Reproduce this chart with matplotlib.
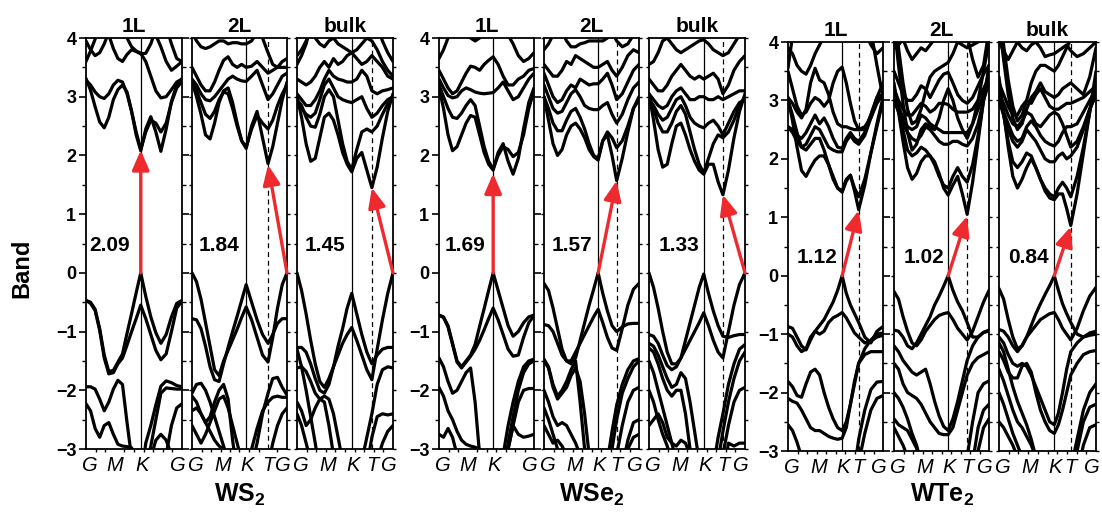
import numpy as np
import matplotlib
matplotlib.use("Agg")
import matplotlib.pyplot as plt

plt.rcParams['font.family'] = 'Liberation Sans'
plt.rcParams['mathtext.fontset'] = 'custom'
plt.rcParams['mathtext.rm'] = 'Liberation Sans'
plt.rcParams['mathtext.bf'] = 'Liberation Sans:bold'

# ---------------------------------------------------------------
# k-path: G (0) -> M -> K -> T -> G (1); K and T positions per panel
# each band: 13 values on G..K, 4 on K..T, 4 on T..G
# ---------------------------------------------------------------
K_POS = 0.57
T_POS = {'WS2_1L': 0.78, 'WS2_2L': 0.80, 'WS2_bulk': 0.78,
         'WSe2_1L': 0.78, 'WSe2_2L': 0.765, 'WSe2_bulk': 0.77,
         'WTe2_1L': 0.744, 'WTe2_2L': 0.77, 'WTe2_bulk': 0.74}

GAPS = {'WS2_1L': 2.09, 'WS2_2L': 1.84, 'WS2_bulk': 1.45,
        'WSe2_1L': 1.69, 'WSe2_2L': 1.57, 'WSe2_bulk': 1.33,
        'WTe2_1L': 1.12, 'WTe2_2L': 1.02, 'WTe2_bulk': 0.84}

# (valence-band maximum point, conduction-band minimum point)
TRANSITION = {'WS2_1L': ('K', 'K'), 'WS2_2L': ('G', 'T'), 'WS2_bulk': ('G', 'T'),
              'WSe2_1L': ('K', 'K'), 'WSe2_2L': ('K', 'T'), 'WSe2_bulk': ('G', 'T'),
              'WTe2_1L': ('K', 'T'), 'WTe2_2L': ('K', 'T'), 'WTe2_bulk': ('K', 'T')}

# ----------------------------- WS2 -----------------------------
WS2_1L_CB = [
    [3.31, 3.11, 2.83, 2.57, 2.47, 2.65, 2.95, 3.12, 3.2, 3.08, 2.75, 2.35, 2.08, 2.45, 2.66, 2.4, 2.07, 2.45, 2.92, 3.2, 3.31],
    [3.28, 3.2, 3.08, 3.0, 2.97, 3.05, 3.2, 3.28, 3.25, 3.05, 2.75, 2.4, 2.1, 2.4, 2.6, 2.55, 2.4, 2.55, 2.9, 3.15, 3.26],
    [3.6, 3.78, 3.98, 4.15, 4.2, 4.05, 3.82, 3.65, 3.6, 3.72, 3.8, 3.77, 3.73, 3.74, 3.9, 4.15, 4.3, 4.2, 3.9, 3.65, 3.6],
    [3.95, 3.8, 3.7, 3.75, 3.9, 4.1, 4.3, 4.3, 4.2, 4.0, 3.85, 3.78, 3.74, 3.6, 3.35, 3.1, 2.98, 3.0, 3.12, 3.25, 3.3],
    [4.3, 4.3, 4.3, 4.3, 4.3, 4.3, 4.3, 4.3, 4.3, 4.3, 4.3, 4.3, 4.2, 4.3, 4.2, 4.05, 3.85, 3.6, 3.45, 3.52, 3.6],
]
WS2_1L_VB = [
    [-0.47, -0.5, -0.62, -0.95, -1.4, -1.68, -1.66, -1.52, -1.38, -1.03, -0.69, -0.34, 0.0, -0.4, -0.75, -1.02, -1.2, -1.05, -0.75, -0.52, -0.47],
    [-0.47, -0.52, -0.64, -0.98, -1.45, -1.72, -1.7, -1.55, -1.45, -1.23, -1.0, -0.78, -0.55, -0.78, -1.05, -1.32, -1.48, -1.38, -1.0, -0.6, -0.48],
    [-1.94, -1.94, -1.98, -2.15, -2.35, -2.2, -1.98, -1.83, -1.9, -2.55, -3.15, -3.6, -3.6, -2.9, -2.6, -2.25, -1.93, -1.84, -1.87, -1.92, -1.94],
    [-2.23, -2.35, -2.65, -2.8, -2.6, -2.55, -2.75, -2.92, -2.95, -2.96, -2.98, -3.2, -3.5, -3.5, -3.5, -3.5, -3.4, -3.1, -2.6, -2.3, -2.23],
    [-3.5, -3.5, -3.5, -3.5, -3.5, -3.5, -3.5, -3.5, -3.5, -3.5, -3.5, -3.5, -3.5, -3.5, -3.15, -2.85, -2.75, -2.85, -3.1, -3.4, -3.5],
    [-3.5, -3.5, -3.5, -3.5, -3.5, -3.5, -3.5, -3.5, -3.5, -3.5, -3.5, -3.5, -3.5, -3.3, -2.95, -2.5, -2.05, -1.96, -1.97, -1.98, -1.98],
]

WS2_2L_CB = [
    [3.26, 3.0, 2.7, 2.35, 2.28, 2.55, 2.9, 3.1, 3.15, 2.9, 2.55, 2.25, 2.12, 2.5, 2.75, 2.3, 1.86, 2.15, 2.55, 2.95, 3.25],
    [3.26, 3.1, 2.9, 2.7, 2.63, 2.75, 2.95, 3.08, 3.05, 2.8, 2.5, 2.25, 2.14, 2.45, 2.68, 2.55, 2.45, 2.6, 2.85, 3.05, 3.2],
    [3.3, 3.2, 3.05, 2.95, 2.93, 3.0, 3.1, 3.2, 3.3, 3.35, 3.3, 3.27, 3.26, 3.35, 3.45, 3.2, 2.95, 3.05, 3.2, 3.35, 3.4],
    [3.5, 3.35, 3.2, 3.1, 3.1, 3.25, 3.45, 3.62, 3.68, 3.55, 3.5, 3.55, 3.5, 3.52, 3.6, 3.5, 3.4, 3.45, 3.5, 3.5, 3.5],
    [4.1, 3.95, 3.85, 3.82, 3.85, 3.9, 3.95, 3.95, 3.9, 3.92, 3.92, 3.9, 3.9, 3.95, 4.1, 4.3, 4.3, 4.3, 4.3, 4.3, 4.3],
    [4.3, 4.3, 4.3, 4.3, 4.3, 4.3, 4.3, 4.3, 4.3, 4.3, 4.3, 4.3, 4.3, 4.3, 4.2, 4.0, 3.75, 3.55, 3.5, 3.6, 3.65],
]
WS2_2L_VB = [
    [0.0, -0.15, -0.45, -0.85, -1.25, -1.65, -1.75, -1.5, -1.32, -1.14, -0.96, -0.76, -0.58, -0.8, -1.1, -1.4, -1.52, -1.1, -0.6, -0.2, 0.0],
    [-0.78, -0.8, -0.95, -1.25, -1.6, -1.82, -1.85, -1.55, -1.27, -1.0, -0.74, -0.47, -0.2, -0.5, -0.8, -1.05, -1.2, -1.05, -0.86, -0.78, -0.78],
    [-2.05, -1.9, -1.88, -2.0, -2.2, -2.45, -2.7, -2.95, -3.2, -3.5, -3.5, -3.5, -3.5, -3.3, -2.9, -2.4, -2.05, -1.8, -1.78, -1.95, -2.08],
    [-2.1, -2.2, -2.4, -2.55, -2.45, -2.2, -2.0, -1.9, -2.15, -2.85, -3.4, -3.5, -3.5, -3.5, -3.5, -3.5, -3.5, -3.5, -3.5, -3.5, -3.5],
    [-2.35, -2.3, -2.4, -2.55, -2.7, -2.85, -2.95, -3.0, -3.1, -3.5, -3.5, -3.5, -3.5, -3.5, -3.5, -3.5, -3.5, -3.5, -3.5, -3.5, -3.5],
    [-2.6, -2.75, -2.9, -2.75, -2.55, -2.35, -2.15, -2.1, -2.3, -2.6, -2.9, -3.2, -3.5, -3.5, -3.5, -3.5, -3.5, -3.5, -3.5, -3.5, -3.5],
    [-3.5, -3.5, -3.5, -3.5, -3.5, -3.5, -3.5, -3.5, -3.5, -3.5, -3.5, -3.5, -3.4, -3.0, -2.65, -2.35, -2.2, -2.12, -2.1, -2.12, -2.12],
    [-3.5, -3.5, -3.5, -3.5, -3.5, -3.5, -3.5, -3.5, -3.5, -3.5, -3.5, -3.5, -3.5, -3.5, -3.5, -3.5, -3.3, -2.9, -2.6, -2.4, -2.3],
]

WS2_BULK_CB = [
    [3.0, 2.65, 2.2, 1.9, 1.95, 2.3, 2.65, 2.72, 2.6, 2.35, 2.05, 1.85, 1.72, 1.95, 2.05, 1.75, 1.45, 1.8, 2.3, 2.75, 3.05],
    [2.95, 2.85, 2.65, 2.5, 2.48, 2.7, 3.0, 3.12, 3.0, 2.6, 2.2, 1.9, 1.76, 2.1, 2.4, 2.45, 2.4, 2.5, 2.7, 2.88, 2.95],
    [2.9, 2.8, 2.7, 2.65, 2.72, 2.95, 3.2, 3.3, 3.15, 3.0, 2.95, 2.92, 2.9, 2.95, 3.0, 2.8, 2.65, 2.72, 2.85, 2.95, 3.0],
    [3.05, 2.95, 2.85, 2.85, 2.95, 3.1, 3.3, 3.45, 3.35, 3.3, 3.28, 3.25, 3.25, 3.3, 3.45, 3.35, 3.1, 3.05, 3.1, 3.12, 3.15],
    [3.3, 3.25, 3.2, 3.25, 3.35, 3.5, 3.6, 3.5, 3.65, 3.55, 3.6, 3.7, 3.75, 3.65, 3.55, 3.6, 3.7, 3.6, 3.5, 3.35, 3.3],
    [3.7, 3.8, 3.95, 4.1, 4.0, 3.9, 3.85, 3.95, 4.0, 3.9, 3.85, 3.8, 3.75, 3.8, 3.9, 4.0, 3.95, 3.8, 3.6, 3.45, 3.35],
    [3.55, 3.7, 3.9, 4.2, 4.4, 4.4, 4.4, 4.4, 4.4, 4.4, 4.4, 4.4, 4.4, 4.4, 4.4, 4.4, 4.4, 4.2, 3.95, 3.75, 3.6],
]
WS2_BULK_VB = [
    [0.0, -0.3, -0.7, -1.15, -1.55, -1.85, -1.95, -1.8, -1.6, -1.4, -1.2, -1.05, -0.93, -1.15, -1.4, -1.65, -1.82, -1.3, -0.8, -0.35, 0.0],
    [-1.27, -1.27, -1.35, -1.55, -1.8, -2.0, -2.05, -1.9, -1.6, -1.25, -0.95, -0.6, -0.35, -0.7, -1.05, -1.35, -1.55, -1.4, -1.3, -1.27, -1.27],
    [-1.62, -1.6, -1.68, -1.85, -2.05, -2.15, -2.1, -2.15, -2.4, -2.8, -3.2, -3.5, -3.5, -3.5, -3.2, -2.8, -2.4, -1.9, -1.65, -1.6, -1.62],
    [-2.2, -2.35, -2.6, -2.5, -2.3, -2.15, -2.2, -2.6, -3.1, -3.5, -3.5, -3.5, -3.5, -3.5, -3.5, -3.5, -3.5, -3.5, -3.5, -3.5, -3.5],
    [-2.4, -2.6, -2.9, -3.2, -3.5, -3.5, -3.5, -3.5, -3.5, -3.5, -3.5, -3.5, -3.5, -3.5, -3.5, -3.5, -3.5, -3.5, -3.5, -3.5, -3.5],
    [-3.5, -3.5, -3.5, -3.5, -3.5, -3.5, -3.5, -3.5, -3.5, -3.5, -3.5, -3.5, -3.5, -3.5, -3.5, -3.3, -2.8, -2.45, -2.4, -2.42, -2.4],
    [-3.5, -3.5, -3.5, -3.5, -3.5, -3.5, -3.5, -3.5, -3.5, -3.5, -3.5, -3.5, -3.5, -3.5, -3.5, -3.5, -3.5, -3.2, -2.9, -2.7, -2.6],
    [-1.3, -1.6, -2.0, -2.45, -2.9, -3.4, -3.5, -3.5, -3.5, -3.5, -3.5, -3.5, -3.5, -3.5, -3.5, -3.5, -3.5, -3.5, -3.5, -3.5, -3.5],
]

# ----------------------------- WSe2 ----------------------------
WSE2_1L_CB = [
    [3.15, 2.8, 2.35, 2.08, 2.15, 2.35, 2.55, 2.68, 2.65, 2.35, 2.05, 1.85, 1.75, 2.05, 2.2, 1.9, 1.68, 1.95, 2.45, 2.9, 3.15],
    [3.2, 3.0, 2.8, 2.65, 2.63, 2.72, 2.85, 2.95, 2.85, 2.5, 2.15, 1.9, 1.77, 2.0, 2.15, 2.1, 1.98, 2.05, 2.35, 2.8, 3.1],
    [3.3, 3.15, 3.02, 2.98, 3.0, 3.1, 3.15, 3.12, 3.08, 3.06, 3.05, 3.06, 3.07, 3.15, 3.25, 3.1, 2.95, 3.0, 3.15, 3.3, 3.4],
    [3.45, 3.3, 3.15, 3.05, 3.1, 3.25, 3.4, 3.52, 3.5, 3.45, 3.55, 3.62, 3.68, 3.55, 3.35, 3.2, 3.2, 3.3, 3.35, 3.45, 3.48],
    [3.65, 3.8, 4.0, 4.2, 4.3, 4.2, 4.1, 4.0, 3.95, 4.0, 4.1, 4.2, 4.3, 4.3, 4.2, 4.05, 3.9, 3.7, 3.6, 3.65, 3.75],
]
WSE2_1L_VB = [
    [-0.72, -0.75, -0.9, -1.2, -1.5, -1.6, -1.5, -1.4, -1.22, -0.91, -0.61, -0.3, 0.0, -0.3, -0.6, -0.9, -1.08, -1.0, -0.85, -0.75, -0.72],
    [-0.72, -0.76, -0.92, -1.22, -1.52, -1.62, -1.52, -1.42, -1.3, -1.15, -0.97, -0.78, -0.6, -0.8, -1.05, -1.3, -1.42, -1.4, -1.1, -0.85, -0.73],
    [-1.45, -1.6, -1.85, -2.05, -2.0, -1.85, -1.7, -1.62, -2.2, -3.1, -3.5, -3.5, -3.5, -3.5, -3.1, -2.6, -2.2, -1.85, -1.6, -1.5, -1.47],
    [-3.5, -3.5, -3.5, -3.5, -3.5, -3.5, -3.5, -3.5, -3.5, -3.5, -3.5, -3.5, -3.5, -3.5, -3.4, -2.9, -2.45, -2.0, -1.7, -1.55, -1.5],
    [-1.95, -2.1, -2.35, -2.5, -2.7, -2.85, -2.92, -2.95, -2.97, -3.0, -3.2, -3.5, -3.5, -3.5, -3.3, -3.0, -2.6, -2.2, -2.0, -1.97, -1.97],
    [-2.75, -2.8, -2.65, -2.8, -3.1, -3.5, -3.5, -3.5, -3.5, -3.5, -3.5, -3.5, -3.5, -3.5, -3.5, -3.0, -2.6, -2.75, -2.8, -2.78, -2.75],
]

WSE2_2L_CB = [
    [3.0, 2.6, 2.2, 2.0, 2.1, 2.35, 2.5, 2.55, 2.45, 2.3, 2.1, 1.98, 1.92, 2.25, 2.35, 2.0, 1.57, 1.95, 2.4, 2.8, 3.0],
    [3.0, 2.8, 2.55, 2.42, 2.42, 2.6, 2.75, 2.8, 2.65, 2.45, 2.2, 2.0, 1.95, 2.25, 2.4, 2.3, 2.13, 2.25, 2.5, 2.8, 2.95],
    [3.2, 3.0, 2.8, 2.72, 2.75, 2.9, 3.05, 3.12, 3.0, 2.85, 2.8, 2.78, 2.78, 2.85, 2.9, 2.7, 2.55, 2.7, 2.95, 3.15, 3.25],
    [3.4, 3.2, 3.0, 2.9, 2.95, 3.1, 3.2, 3.15, 3.3, 3.25, 3.2, 3.22, 3.22, 3.3, 3.4, 3.2, 2.95, 3.05, 3.25, 3.45, 3.55],
    [3.55, 3.45, 3.35, 3.35, 3.45, 3.6, 3.55, 3.7, 3.65, 3.6, 3.55, 3.5, 3.5, 3.55, 3.6, 3.45, 3.35, 3.5, 3.7, 3.8, 3.75],
    [3.8, 3.9, 4.05, 4.2, 4.1, 3.95, 3.85, 3.85, 3.9, 3.92, 3.95, 3.95, 3.95, 3.95, 4.0, 4.1, 3.95, 3.85, 3.9, 4.05, 4.2],
]
WSE2_2L_VB = [
    [-0.18, -0.3, -0.6, -0.95, -1.3, -1.5, -1.5, -1.35, -1.2, -1.05, -0.9, -0.75, -0.62, -0.85, -1.1, -1.28, -1.32, -0.95, -0.55, -0.28, -0.18],
    [-0.88, -0.9, -1.0, -1.2, -1.4, -1.5, -1.55, -1.45, -1.15, -0.85, -0.55, -0.28, 0.0, -0.35, -0.65, -0.9, -1.0, -0.92, -0.87, -0.86, -0.86],
    [-1.47, -1.6, -1.9, -2.1, -2.0, -1.85, -1.65, -1.5, -2.2, -3.0, -3.5, -3.5, -3.5, -3.5, -3.2, -2.7, -2.25, -1.9, -1.65, -1.5, -1.46],
    [-1.5, -1.62, -1.95, -2.15, -2.05, -1.95, -1.75, -1.62, -1.85, -2.4, -3.1, -3.5, -3.5, -3.5, -3.5, -3.0, -2.5, -2.05, -1.8, -1.6, -1.5],
    [-2.0, -2.2, -2.45, -2.6, -2.55, -2.6, -2.75, -2.9, -3.1, -3.5, -3.5, -3.5, -3.5, -3.5, -3.5, -3.5, -3.1, -2.6, -2.2, -2.0, -1.95],
    [-2.6, -2.75, -2.9, -2.85, -2.95, -3.1, -3.5, -3.5, -3.5, -3.5, -3.5, -3.5, -3.5, -3.5, -3.5, -3.5, -3.5, -3.3, -2.85, -2.55, -2.5],
    [-2.3, -2.5, -2.75, -3.0, -3.3, -3.5, -3.5, -3.5, -3.5, -3.5, -3.5, -3.5, -3.5, -3.5, -3.5, -3.5, -3.5, -3.5, -3.0, -2.8, -2.75],
]

WSE2_BULK_CB = [
    [3.05, 2.6, 2.1, 1.8, 1.85, 2.2, 2.5, 2.55, 2.35, 2.1, 1.9, 1.75, 1.68, 1.85, 1.85, 1.55, 1.33, 1.75, 2.3, 2.75, 3.05],
    [3.0, 2.8, 2.55, 2.4, 2.4, 2.55, 2.75, 2.85, 2.7, 2.4, 2.1, 1.85, 1.7, 1.95, 2.2, 2.35, 2.3, 2.4, 2.6, 2.85, 3.0],
    [2.95, 2.85, 2.7, 2.6, 2.65, 2.8, 2.95, 3.0, 2.85, 2.65, 2.55, 2.5, 2.47, 2.55, 2.6, 2.5, 2.35, 2.55, 2.75, 2.9, 2.95],
    [3.05, 2.95, 2.85, 2.8, 2.85, 3.0, 3.1, 3.15, 3.05, 2.95, 2.95, 3.0, 3.0, 2.95, 2.95, 3.0, 2.95, 3.0, 3.05, 3.1, 3.1],
    [3.3, 3.2, 3.1, 3.1, 3.2, 3.35, 3.45, 3.55, 3.45, 3.35, 3.3, 3.35, 3.3, 3.35, 3.4, 3.3, 3.05, 3.2, 3.45, 3.6, 3.7],
    [3.55, 3.6, 3.75, 3.95, 4.0, 3.9, 3.8, 3.75, 3.8, 3.85, 3.9, 3.95, 3.97, 3.9, 3.8, 3.75, 3.7, 3.75, 3.9, 4.05, 4.2],
]
WSE2_BULK_VB = [
    [0.0, -0.25, -0.6, -1.0, -1.35, -1.55, -1.55, -1.45, -1.3, -1.15, -1.0, -0.85, -0.68, -0.9, -1.15, -1.35, -1.45, -1.0, -0.55, -0.2, 0.0],
    [-1.05, -1.08, -1.2, -1.4, -1.58, -1.65, -1.6, -1.45, -1.15, -0.85, -0.55, -0.25, -0.02, -0.35, -0.65, -0.9, -1.08, -1.1, -1.07, -1.05, -1.05],
    [-1.2, -1.25, -1.4, -1.6, -1.8, -1.95, -1.9, -1.7, -1.8, -2.2, -2.7, -3.2, -3.5, -3.5, -3.3, -2.8, -2.4, -1.9, -1.55, -1.3, -1.22],
    [-1.28, -1.35, -1.55, -1.8, -2.0, -2.1, -2.0, -2.0, -2.4, -3.0, -3.5, -3.5, -3.5, -3.5, -3.5, -3.2, -2.7, -2.2, -1.8, -1.5, -1.35],
    [-1.5, -1.7, -2.0, -2.3, -2.6, -2.9, -3.2, -3.5, -3.5, -3.5, -3.5, -3.5, -3.5, -3.5, -3.5, -3.5, -3.1, -2.6, -2.2, -2.0, -1.95],
    [-2.6, -2.5, -2.4, -2.55, -2.8, -2.9, -2.95, -2.85, -2.9, -3.1, -3.5, -3.5, -3.5, -3.5, -3.5, -3.5, -3.5, -2.9, -2.95, -2.9, -2.9],
    [-2.0, -2.2, -2.5, -2.75, -2.95, -3.2, -3.5, -3.5, -3.5, -3.5, -3.5, -3.5, -3.5, -3.5, -3.5, -3.5, -3.5, -3.5, -3.5, -3.5, -3.5],
]

# ----------------------------- WTe2 ----------------------------
WTE2_1L_CB = [
    [3.05, 2.65, 2.2, 1.8, 1.7, 1.85, 1.98, 2.05, 2.05, 1.9, 1.7, 1.5, 1.43, 1.62, 1.72, 1.45, 1.13, 1.55, 2.1, 2.6, 3.05],
    [3.0, 2.75, 2.45, 2.2, 2.15, 2.25, 2.35, 2.35, 2.15, 1.9, 1.65, 1.5, 1.45, 1.65, 1.72, 1.5, 1.35, 1.65, 2.1, 2.55, 3.0],
    [2.55, 2.45, 2.3, 2.2, 2.25, 2.4, 2.55, 2.5, 2.35, 2.2, 2.15, 2.12, 2.12, 2.3, 2.4, 2.3, 2.25, 2.4, 2.7, 3.0, 3.1],
    [2.55, 2.5, 2.4, 2.35, 2.45, 2.6, 2.75, 2.6, 2.7, 2.55, 2.35, 2.2, 2.18, 2.35, 2.45, 2.35, 2.3, 2.45, 2.75, 3.05, 3.1],
    [3.05, 2.95, 2.8, 2.7, 2.85, 3.3, 3.55, 3.35, 3.3, 3.1, 2.8, 2.6, 2.55, 2.55, 2.52, 2.5, 2.5, 2.55, 2.7, 2.95, 3.1],
    [3.5, 3.2, 2.9, 2.75, 2.8, 2.95, 3.05, 3.0, 2.9, 3.0, 3.3, 3.5, 3.57, 3.3, 2.95, 2.65, 2.5, 2.5, 2.75, 3.05, 3.3],
    [3.9, 3.8, 3.6, 3.5, 3.45, 3.6, 3.8, 3.95, 4.1, 4.3, 4.3, 4.3, 4.3, 4.3, 4.3, 4.3, 4.3, 4.2, 3.95, 3.8, 3.9],
    [3.55, 4.1, 4.5, 4.5, 4.5, 4.5, 4.5, 4.5, 4.5, 4.5, 4.5, 4.5, 4.5, 4.5, 4.5, 4.5, 4.5, 4.5, 4.2, 3.6, 3.05],
]
WTE2_1L_VB = [
    [-0.87, -0.9, -1.05, -1.2, -1.27, -1.1, -0.95, -0.85, -0.75, -0.6, -0.45, -0.25, 0.0, -0.3, -0.5, -0.65, -0.8, -1.05, -1.15, -0.95, -0.87],
    [-1.0, -1.05, -1.2, -1.3, -1.25, -1.05, -0.95, -1.0, -0.95, -0.8, -0.72, -0.68, -0.63, -0.72, -0.85, -0.98, -1.05, -1.15, -1.12, -1.05, -1.02],
    [-1.81, -1.9, -2.05, -2.08, -1.85, -1.65, -1.6, -1.7, -2.0, -2.25, -2.45, -2.6, -2.65, -2.5, -2.2, -1.8, -1.5, -1.25, -1.1, -1.0, -0.98],
    [-2.1, -2.15, -2.18, -2.3, -2.45, -2.6, -2.65, -2.65, -2.7, -2.75, -2.78, -2.8, -2.78, -2.6, -2.2, -1.85, -1.5, -1.35, -1.3, -1.3, -1.3],
    [-2.55, -2.65, -2.85, -3.1, -3.5, -3.5, -3.5, -3.5, -3.5, -3.5, -3.5, -3.5, -3.5, -3.5, -3.5, -3.3, -2.8, -2.3, -1.95, -1.82, -1.81],
    [-3.5, -3.5, -3.5, -3.5, -3.5, -3.5, -3.5, -3.5, -3.5, -3.5, -3.5, -3.5, -3.5, -3.5, -3.5, -3.5, -3.2, -2.7, -2.3, -2.1, -2.05],
]

WTE2_2L_CB = [
    [3.3, 2.8, 2.3, 1.85, 1.65, 1.75, 1.95, 2.05, 2.05, 1.95, 1.75, 1.5, 1.38, 1.55, 1.7, 1.4, 1.05, 1.6, 2.3, 3.0, 3.6],
    [3.2, 2.85, 2.5, 2.15, 2.05, 2.1, 2.2, 2.15, 2.05, 1.9, 1.7, 1.55, 1.5, 1.7, 1.85, 1.7, 1.6, 1.9, 2.4, 3.0, 3.5],
    [3.0, 2.8, 2.6, 2.45, 2.35, 2.3, 2.4, 2.55, 2.5, 2.4, 2.3, 2.25, 2.25, 2.3, 2.3, 2.25, 2.22, 2.35, 2.6, 3.0, 3.3],
    [3.1, 2.9, 2.7, 2.55, 2.5, 2.55, 2.75, 2.7, 2.6, 2.55, 2.5, 2.45, 2.45, 2.45, 2.45, 2.45, 2.45, 2.6, 2.85, 3.1, 3.3],
    [3.2, 3.0, 2.85, 2.75, 2.75, 2.85, 2.95, 2.9, 2.8, 2.85, 2.95, 2.95, 2.93, 2.85, 2.8, 2.8, 2.8, 2.85, 3.0, 3.2, 3.4],
    [3.5, 3.3, 3.1, 3.0, 3.0, 3.1, 3.25, 3.2, 3.05, 3.2, 3.35, 3.45, 3.48, 3.3, 3.1, 3.0, 2.95, 3.05, 3.25, 3.45, 3.6],
    [4.3, 3.6, 2.95, 2.45, 2.15, 2.25, 2.5, 2.6, 2.55, 2.5, 2.7, 3.0, 3.2, 3.0, 2.7, 2.5, 2.35, 2.6, 3.0, 3.5, 4.0],
    [4.6, 3.9, 3.3, 2.85, 2.6, 2.65, 2.85, 3.15, 3.4, 3.5, 3.55, 3.6, 3.65, 3.8, 4.0, 4.2, 4.1, 3.7, 3.4, 3.6, 4.2],
    [3.9, 3.95, 4.05, 3.85, 3.7, 3.8, 3.9, 3.85, 3.95, 4.05, 4.1, 4.1, 4.1, 4.1, 4.0, 3.95, 3.9, 3.95, 4.0, 4.1, 4.2],
]
WTE2_2L_VB = [
    [-0.27, -0.4, -0.7, -0.95, -1.15, -1.2, -1.1, -0.95, -0.85, -0.75, -0.68, -0.65, -0.63, -0.75, -0.9, -1.0, -1.1, -0.95, -0.7, -0.45, -0.25],
    [-0.93, -0.95, -1.05, -1.2, -1.25, -1.15, -1.0, -0.85, -0.7, -0.5, -0.35, -0.18, 0.0, -0.25, -0.45, -0.6, -0.8, -1.05, -1.05, -0.97, -0.93],
    [-1.2, -1.3, -1.45, -1.55, -1.65, -1.7, -1.65, -1.6, -1.85, -2.15, -2.4, -2.58, -2.65, -2.45, -2.15, -1.8, -1.45, -1.2, -1.05, -0.97, -0.95],
    [-1.5, -1.6, -1.85, -2.0, -2.05, -2.1, -2.2, -2.35, -2.5, -2.6, -2.7, -2.72, -2.72, -2.6, -2.3, -2.0, -1.7, -1.5, -1.4, -1.35, -1.3],
    [-2.0, -2.1, -2.25, -2.45, -2.7, -2.9, -3.2, -3.5, -3.5, -3.5, -3.5, -3.5, -3.5, -3.5, -3.5, -3.5, -3.1, -2.5, -2.0, -1.85, -1.8],
    [-2.6, -2.75, -2.9, -3.1, -3.5, -3.5, -3.5, -3.5, -3.5, -3.5, -3.5, -3.5, -3.5, -3.5, -3.5, -3.5, -3.5, -3.2, -2.6, -2.3, -2.2],
    [-2.45, -2.55, -2.6, -2.65, -2.8, -2.95, -3.5, -3.5, -3.5, -3.5, -3.5, -3.5, -3.5, -3.5, -3.5, -3.5, -3.5, -3.5, -3.0, -2.6, -2.45],
]

WTE2_BULK_CB = [
    [3.4, 2.8, 2.2, 1.7, 1.5, 1.65, 1.85, 2.0, 1.85, 1.65, 1.45, 1.33, 1.3, 1.4, 1.4, 1.15, 0.86, 1.4, 2.1, 2.8, 3.5],
    [3.2, 2.75, 2.3, 1.95, 1.85, 1.95, 2.1, 2.05, 1.85, 1.65, 1.5, 1.4, 1.35, 1.5, 1.6, 1.5, 1.35, 1.7, 2.2, 2.8, 3.3],
    [3.0, 2.75, 2.5, 2.3, 2.2, 2.3, 2.5, 2.4, 2.3, 2.15, 2.0, 1.95, 1.95, 2.05, 2.1, 2.0, 2.05, 2.2, 2.5, 2.85, 3.1],
    [3.0, 2.8, 2.6, 2.4, 2.3, 2.35, 2.55, 2.65, 2.55, 2.4, 2.3, 2.25, 2.22, 2.3, 2.45, 2.55, 2.55, 2.6, 2.8, 3.0, 3.2],
    [3.1, 2.95, 2.75, 2.6, 2.55, 2.65, 2.8, 2.75, 2.6, 2.55, 2.65, 2.75, 2.8, 2.75, 2.6, 2.4, 2.2, 2.3, 2.55, 2.85, 3.1],
    [3.3, 3.1, 2.9, 2.75, 2.75, 2.9, 3.0, 2.95, 3.1, 3.2, 3.05, 2.9, 2.85, 2.85, 2.9, 2.95, 2.95, 3.0, 3.05, 3.15, 3.25],
    [4.3, 3.7, 3.1, 2.7, 2.5, 2.6, 2.85, 3.05, 3.15, 3.3, 3.15, 3.1, 3.05, 3.1, 3.2, 3.25, 3.3, 3.2, 3.1, 3.4, 3.9],
    [4.0, 3.85, 3.7, 3.85, 4.0, 3.9, 3.85, 3.95, 4.0, 3.9, 3.75, 3.78, 3.8, 3.85, 3.9, 3.95, 3.85, 3.75, 3.8, 3.9, 4.0],
    [4.6, 3.95, 3.35, 2.9, 2.65, 2.75, 3.0, 3.3, 3.5, 3.6, 3.6, 3.55, 3.5, 3.6, 3.75, 3.9, 4.05, 4.2, 4.4, 4.6, 4.6],
]
WTE2_BULK_VB = [
    [-0.22, -0.4, -0.75, -1.05, -1.25, -1.2, -1.05, -0.95, -0.85, -0.75, -0.7, -0.65, -0.63, -0.75, -0.9, -1.0, -1.1, -0.9, -0.6, -0.35, -0.2],
    [-0.92, -0.95, -1.05, -1.2, -1.3, -1.2, -1.05, -0.85, -0.65, -0.48, -0.32, -0.17, 0.0, -0.25, -0.48, -0.65, -0.8, -1.0, -1.05, -0.98, -0.95],
    [-1.05, -1.15, -1.35, -1.5, -1.55, -1.5, -1.55, -1.7, -1.9, -2.1, -2.3, -2.5, -2.55, -2.35, -2.0, -1.6, -1.3, -1.15, -1.05, -1.02, -1.0],
    [-1.3, -1.45, -1.65, -1.75, -1.75, -1.55, -1.5, -1.65, -2.0, -2.3, -2.5, -2.65, -2.7, -2.55, -2.3, -2.0, -1.7, -1.5, -1.35, -1.3, -1.28],
    [-1.6, -1.8, -2.05, -2.3, -2.5, -2.6, -2.75, -2.9, -3.1, -3.5, -3.5, -3.5, -3.5, -3.5, -3.5, -3.5, -3.3, -2.8, -2.3, -2.0, -1.85],
    [-2.0, -2.2, -2.45, -2.7, -2.9, -3.1, -3.5, -3.5, -3.5, -3.5, -3.5, -3.5, -3.5, -3.5, -3.5, -3.5, -3.5, -3.0, -2.5, -2.25, -2.2],
    [-2.5, -2.6, -2.75, -2.9, -3.1, -3.5, -3.5, -3.5, -3.5, -3.5, -3.5, -3.5, -3.5, -3.5, -3.5, -3.5, -3.5, -3.4, -2.9, -2.6, -2.55],
    [-1.15, -1.3, -1.6, -1.9, -2.15, -2.35, -2.55, -2.8, -3.1, -3.5, -3.5, -3.5, -3.5, -3.5, -3.5, -3.5, -3.5, -3.5, -3.5, -3.5, -3.5],
]

PANEL_BANDS = {
    'WS2_1L': WS2_1L_CB + WS2_1L_VB, 'WS2_2L': WS2_2L_CB + WS2_2L_VB, 'WS2_bulk': WS2_BULK_CB + WS2_BULK_VB,
    'WSe2_1L': WSE2_1L_CB + WSE2_1L_VB, 'WSe2_2L': WSE2_2L_CB + WSE2_2L_VB, 'WSe2_bulk': WSE2_BULK_CB + WSE2_BULK_VB,
    'WTe2_1L': WTE2_1L_CB + WTE2_1L_VB, 'WTe2_2L': WTE2_2L_CB + WTE2_2L_VB, 'WTe2_bulk': WTE2_BULK_CB + WTE2_BULK_VB,
}

MATERIALS = ['WS2', 'WSe2', 'WTe2']
MATERIAL_LABELS = [r'$\mathbf{WS_2}$', r'$\mathbf{WSe_2}$', r'$\mathbf{WTe_2}$']
LAYERS = ['1L', '2L', 'bulk']
GAP_TEXT_X = {'WS2_1L': 0.25, 'WS2_2L': 0.28, 'WS2_bulk': 0.29,
              'WSe2_1L': 0.27, 'WSe2_2L': 0.29, 'WSe2_bulk': 0.31,
              'WTe2_1L': 0.31, 'WTe2_2L': 0.32, 'WTe2_bulk': 0.30}

RED = '#ee2a2f'


def kgrid(k_pos, t_pos):
    left = np.linspace(0.0, k_pos, 13)
    mid = np.linspace(k_pos, t_pos, 5)[1:]
    right = np.linspace(t_pos, 1.0, 5)[1:]
    return np.concatenate([left, mid, right])


W, H = 1102, 518
fig = plt.figure(figsize=(W / 100, H / 100), dpi=100)

# panel frames in pixels (left, right), and vertical extent (top, bottom) per material
PANEL_X = [[(86, 182), (192, 287), (297, 393)],
           [(439, 534), (544, 639), (649, 745)],
           [(788, 883), (894, 989), (999, 1096)]]
PANEL_Y = [(38, 449), (38, 449), (42, 451)]

for gi, mat in enumerate(MATERIALS):
    top, bot = PANEL_Y[gi]
    for pi, layer in enumerate(LAYERS):
        key = f'{mat}_{layer}'
        x0, x1 = PANEL_X[gi][pi]
        ax = fig.add_axes([x0 / W, 1 - bot / H, (x1 - x0) / W, (bot - top) / H])
        t_pos = T_POS[key]
        ks = kgrid(K_POS, t_pos)
        for band in PANEL_BANDS[key]:
            assert len(band) == len(ks)
            ax.plot(ks, band, color='black', lw=2.3, solid_joinstyle='round',
                    solid_capstyle='round', zorder=2)

        ax.axvline(K_POS, color='black', lw=0.9, zorder=1)
        show_t = not (layer == '1L' and mat in ('WS2', 'WSe2'))
        if show_t:
            ax.axvline(t_pos, color='black', lw=0.9, ls=(0, (4, 3)), zorder=1)

        # direct / indirect gap arrow
        pts = {'K': K_POS, 'T': t_pos, 'G': 1.0}
        vb, cb = TRANSITION[key]
        gap = GAPS[key]
        ax.annotate('', xy=(pts[cb], gap), xytext=(pts[vb], 0.0),
                    arrowprops=dict(arrowstyle='-|>,head_length=0.6,head_width=0.26',
                                    color=RED, lw=2.4, mutation_scale=20,
                                    shrinkA=0, shrinkB=0),
                    zorder=5, annotation_clip=False)
        ty = 0.47 if gi < 2 else 0.32
        ax.text(GAP_TEXT_X[key], ty, f'{gap:.2f}', ha='center', va='center',
                fontsize=15, fontweight='bold')

        ax.set_xlim(0, 1)
        ax.set_ylim(-3, 4)
        ax.set_title(layer, fontsize=15, fontweight='bold', pad=4)

        # y ticks
        ax.set_yticks(np.arange(-3, 5, 1))
        ax.set_yticks(np.arange(-2.5, 4, 1), minor=True)
        if pi == 0:
            ax.tick_params(axis='y', which='major', direction='out', length=5, width=1.2,
                           left=True, right=True, labelleft=True, labelsize=13, pad=2)
            ax.tick_params(axis='y', which='minor', direction='out', length=3, width=1.0,
                           left=True, right=True)
            for lab in ax.get_yticklabels():
                lab.set_fontweight('bold')
        else:
            ax.tick_params(axis='y', which='both', direction='out', length=2.5, width=1.0,
                           left=True, right=True, labelleft=False)

        # x ticks: symmetry-point labels
        if layer == '1L' and mat in ('WS2', 'WSe2'):
            xt, xl = [0.04, 0.3, 0.58, 0.96], ['G', 'M', 'K', 'G']
        else:
            xt, xl = [0.04, 0.32, 0.58, t_pos, 0.96], ['G', 'M', 'K', 'T', 'G']
        ax.set_xticks(xt)
        ax.set_xticklabels(xl, fontsize=14.5, fontstyle='italic')
        ax.tick_params(axis='x', which='major', length=0, pad=5)
        ax.set_xticks(np.arange(0.1, 1.0, 0.1), minor=True)
        ax.tick_params(axis='x', which='minor', direction='out', length=2.5, width=1.0)

        for sp in ax.spines.values():
            sp.set_linewidth(1.3)

    xc = (PANEL_X[gi][0][0] + PANEL_X[gi][2][1]) / 2
    fig.text(xc / W, 1 - 495 / H, MATERIAL_LABELS[gi], ha='center', va='center',
             fontsize=18)

fig.text(22 / W, 1 - 268 / H, 'Band', rotation=90, ha='center', va='center',
         fontsize=17, fontweight='bold')

fig.savefig('out.png', dpi=100)
